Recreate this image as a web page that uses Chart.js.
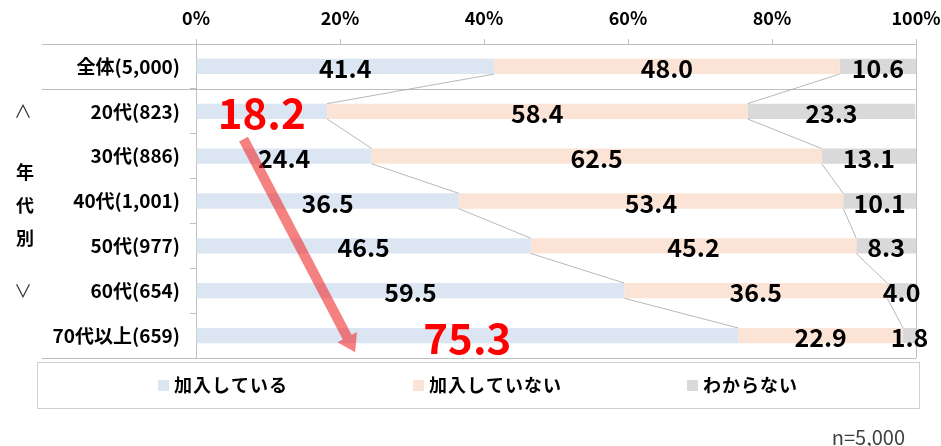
<!DOCTYPE html>
<html><head><meta charset="utf-8">
<script src="https://cdn.jsdelivr.net/npm/chart.js@4.4.0/dist/chart.umd.min.js"></script>
<style>html,body{margin:0;padding:0;background:#fff;} #wrap{width:941px;height:446px;position:relative;}</style>
</head><body><div id="wrap"><canvas id="c" width="941" height="446"></canvas></div>
<script>
const categories = ['全体(5,000)','20代(823)','30代(886)','40代(1,001)','50代(977)','60代(654)','70代以上(659)'];
const seriesNames = ['加入している','加入していない','わからない'];
const joined = [41.4,18.2,24.4,36.5,46.5,59.5,75.3];
const notJoined = [48.0,58.4,62.5,53.4,45.2,36.5,22.9];
const unknown = [10.6,23.3,13.1,10.1,8.3,4.0,1.8];
const xTickStep = 20;
const sideLabels = ['∧','年','代','別','∨'];
const noteText = 'n=5,000';
const highlighted = [[0,1],[0,6]];
const arrowFrom = [6.6, 1.62];
const arrowTo = [22.1, 6.37];

const FONT = '"Noto Sans CJK JP","Noto Sans",sans-serif';
const colors = ['#dce6f2','#fbe4d5','#d9d9d9'];
const GRID = '#bfbfbf';

const decor = {
  id: 'decor',
  afterDatasetsDraw(chart) {
    const ctx = chart.ctx, ca = chart.chartArea;
    const xs = chart.scales.x, ys = chart.scales.y;
    const m0 = chart.getDatasetMeta(0).data, m1 = chart.getDatasetMeta(1).data;
    ctx.save();
    // separators
    ctx.strokeStyle = GRID; ctx.lineWidth = 1;
    const hLines = [ca.top, ys.getPixelForValue(0.5), ca.bottom];
    hLines.forEach(y => { ctx.beginPath(); ctx.moveTo(42, Math.round(y)+0.5); ctx.lineTo(ca.right, Math.round(y)+0.5); ctx.stroke(); });
    ctx.beginPath(); ctx.moveTo(Math.round(ca.right)+0.5, ca.top-5); ctx.lineTo(Math.round(ca.right)+0.5, ca.bottom); ctx.stroke();
    // connector lines
    ctx.strokeStyle = '#a6a6a6'; ctx.lineWidth = 0.8;
    [m0, m1].forEach(m => {
      for (let i = 0; i < m.length-1; i++) {
        const a = m[i], b = m[i+1];
        ctx.beginPath();
        ctx.moveTo(a.x, a.y + a.height/2);
        ctx.lineTo(b.x, b.y - b.height/2);
        ctx.stroke();
      }
    });
    // value labels
    ctx.textAlign = 'center'; ctx.textBaseline = 'middle';
    chart.data.datasets.forEach((ds, d) => {
      chart.getDatasetMeta(d).data.forEach((el, i) => {
        const hl = highlighted.some(h => h[0]===d && h[1]===i);
        const cx = (el.x + el.base)/2;
        if (hl) { ctx.fillStyle = '#ff0000'; ctx.font = 'bold 42px ' + FONT; }
        else { ctx.fillStyle = '#000'; ctx.font = 'bold 25px ' + FONT; }
        ctx.fillText(ds.data[i].toFixed(1), cx, el.y + 2);
      });
    });
    // arrow
    const sx = xs.getPixelForValue(arrowFrom[0]), sy = ys.getPixelForValue(arrowFrom[1]);
    const tx = xs.getPixelForValue(arrowTo[0]), ty = ys.getPixelForValue(arrowTo[1]);
    const len = Math.hypot(tx-sx, ty-sy), ux = (tx-sx)/len, uy = (ty-sy)/len;
    const nx = uy, ny = -ux, w = 5, hw = 11, hl = 17;
    const bx = tx - ux*hl, by = ty - uy*hl;
    ctx.fillStyle = 'rgba(238,45,45,0.6)';
    ctx.beginPath();
    ctx.moveTo(sx+nx*w, sy+ny*w);
    ctx.lineTo(bx+nx*w, by+ny*w);
    ctx.lineTo(bx+nx*hw, by+ny*hw);
    ctx.lineTo(tx, ty);
    ctx.lineTo(bx-nx*hw, by-ny*hw);
    ctx.lineTo(bx-nx*w, by-ny*w);
    ctx.lineTo(sx-nx*w, sy-ny*w);
    ctx.closePath(); ctx.fill();
    // side labels
    const midY = ys.getPixelForValue(3) + 4;
    ctx.font = '18px ' + FONT; ctx.fillStyle = '#333';
    ctx.fillText(sideLabels[0], 23, ys.getPixelForValue(1));
    ctx.fillText(sideLabels[4], 23, ys.getPixelForValue(5));
    ctx.font = 'bold 18px ' + FONT; ctx.fillStyle = '#000';
    ctx.fillText(sideLabels[1], 25, midY - 33);
    ctx.fillText(sideLabels[2], 25, midY);
    ctx.fillText(sideLabels[3], 25, midY + 33);
    // legend
    const lx0 = 37, lx1 = 919, ly0 = ca.bottom + 4, ly1 = ca.bottom + 50;
    ctx.strokeStyle = '#d0d0d0'; ctx.lineWidth = 1;
    ctx.strokeRect(lx0+0.5, Math.round(ly0)+0.5, lx1-lx0, ly1-ly0);
    ctx.font = 'bold 18px ' + FONT;
    ctx.letterSpacing = '1px';
    const gap = 125, box = 11, bpad = 5;
    const widths = seriesNames.map(s => ctx.measureText(s).width);
    const total = widths.reduce((a,b)=>a+b,0) + seriesNames.length*(box+bpad) + gap*(seriesNames.length-1);
    let x = (lx0+lx1)/2 - total/2;
    const ly = (ly0+ly1)/2;
    ctx.textAlign = 'left';
    seriesNames.forEach((s, i) => {
      ctx.fillStyle = colors[i];
      ctx.fillRect(x, ly-5, box, box);
      ctx.fillStyle = '#000';
      ctx.fillText(s, x+box+bpad, ly);
      x += box + bpad + widths[i] + gap;
    });
    ctx.letterSpacing = '0px';
    // note
    ctx.textAlign = 'right'; ctx.fillStyle = '#404040';
    ctx.font = '20px ' + FONT;
    ctx.fillText(noteText, 905, 437);
    ctx.restore();
  }
};

new Chart(document.getElementById('c'), {
  type: 'bar',
  data: {
    labels: categories,
    datasets: [
      { label: seriesNames[0], data: joined, backgroundColor: colors[0] },
      { label: seriesNames[1], data: notJoined, backgroundColor: colors[1] },
      { label: seriesNames[2], data: unknown, backgroundColor: colors[2] }
    ]
  },
  options: {
    indexAxis: 'y',
    responsive: false,
    animation: false,
    devicePixelRatio: 1,
    datasets: { bar: { barPercentage: 0.34, categoryPercentage: 1, borderWidth: 0 } },
    layout: { padding: { top: 0, right: 25, bottom: 88, left: 0 } },
    plugins: { legend: { display: false }, tooltip: { enabled: false } },
    scales: {
      x: {
        position: 'top', stacked: true, min: 0, max: 100,
        ticks: { stepSize: xTickStep, callback: v => v + '%', color: '#000', padding: 10,
                 font: { family: FONT, size: 18, weight: 'bold' } },
        grid: { drawOnChartArea: false, tickLength: 5, color: GRID },
        border: { display: false },
        afterFit: s => { s.height = 44; s.paddingRight = 0; s.paddingLeft = 0; }
      },
      y: {
        stacked: true,
        ticks: { color: '#000', padding: 10, font: { family: FONT, size: 19, weight: 'bold' } },
        grid: { offset: true, drawOnChartArea: false, tickLength: 6, color: GRID },
        border: { display: true, color: GRID },
        afterFit: s => { s.width = 196; }
      }
    }
  },
  plugins: [decor]
});
</script></body></html>
